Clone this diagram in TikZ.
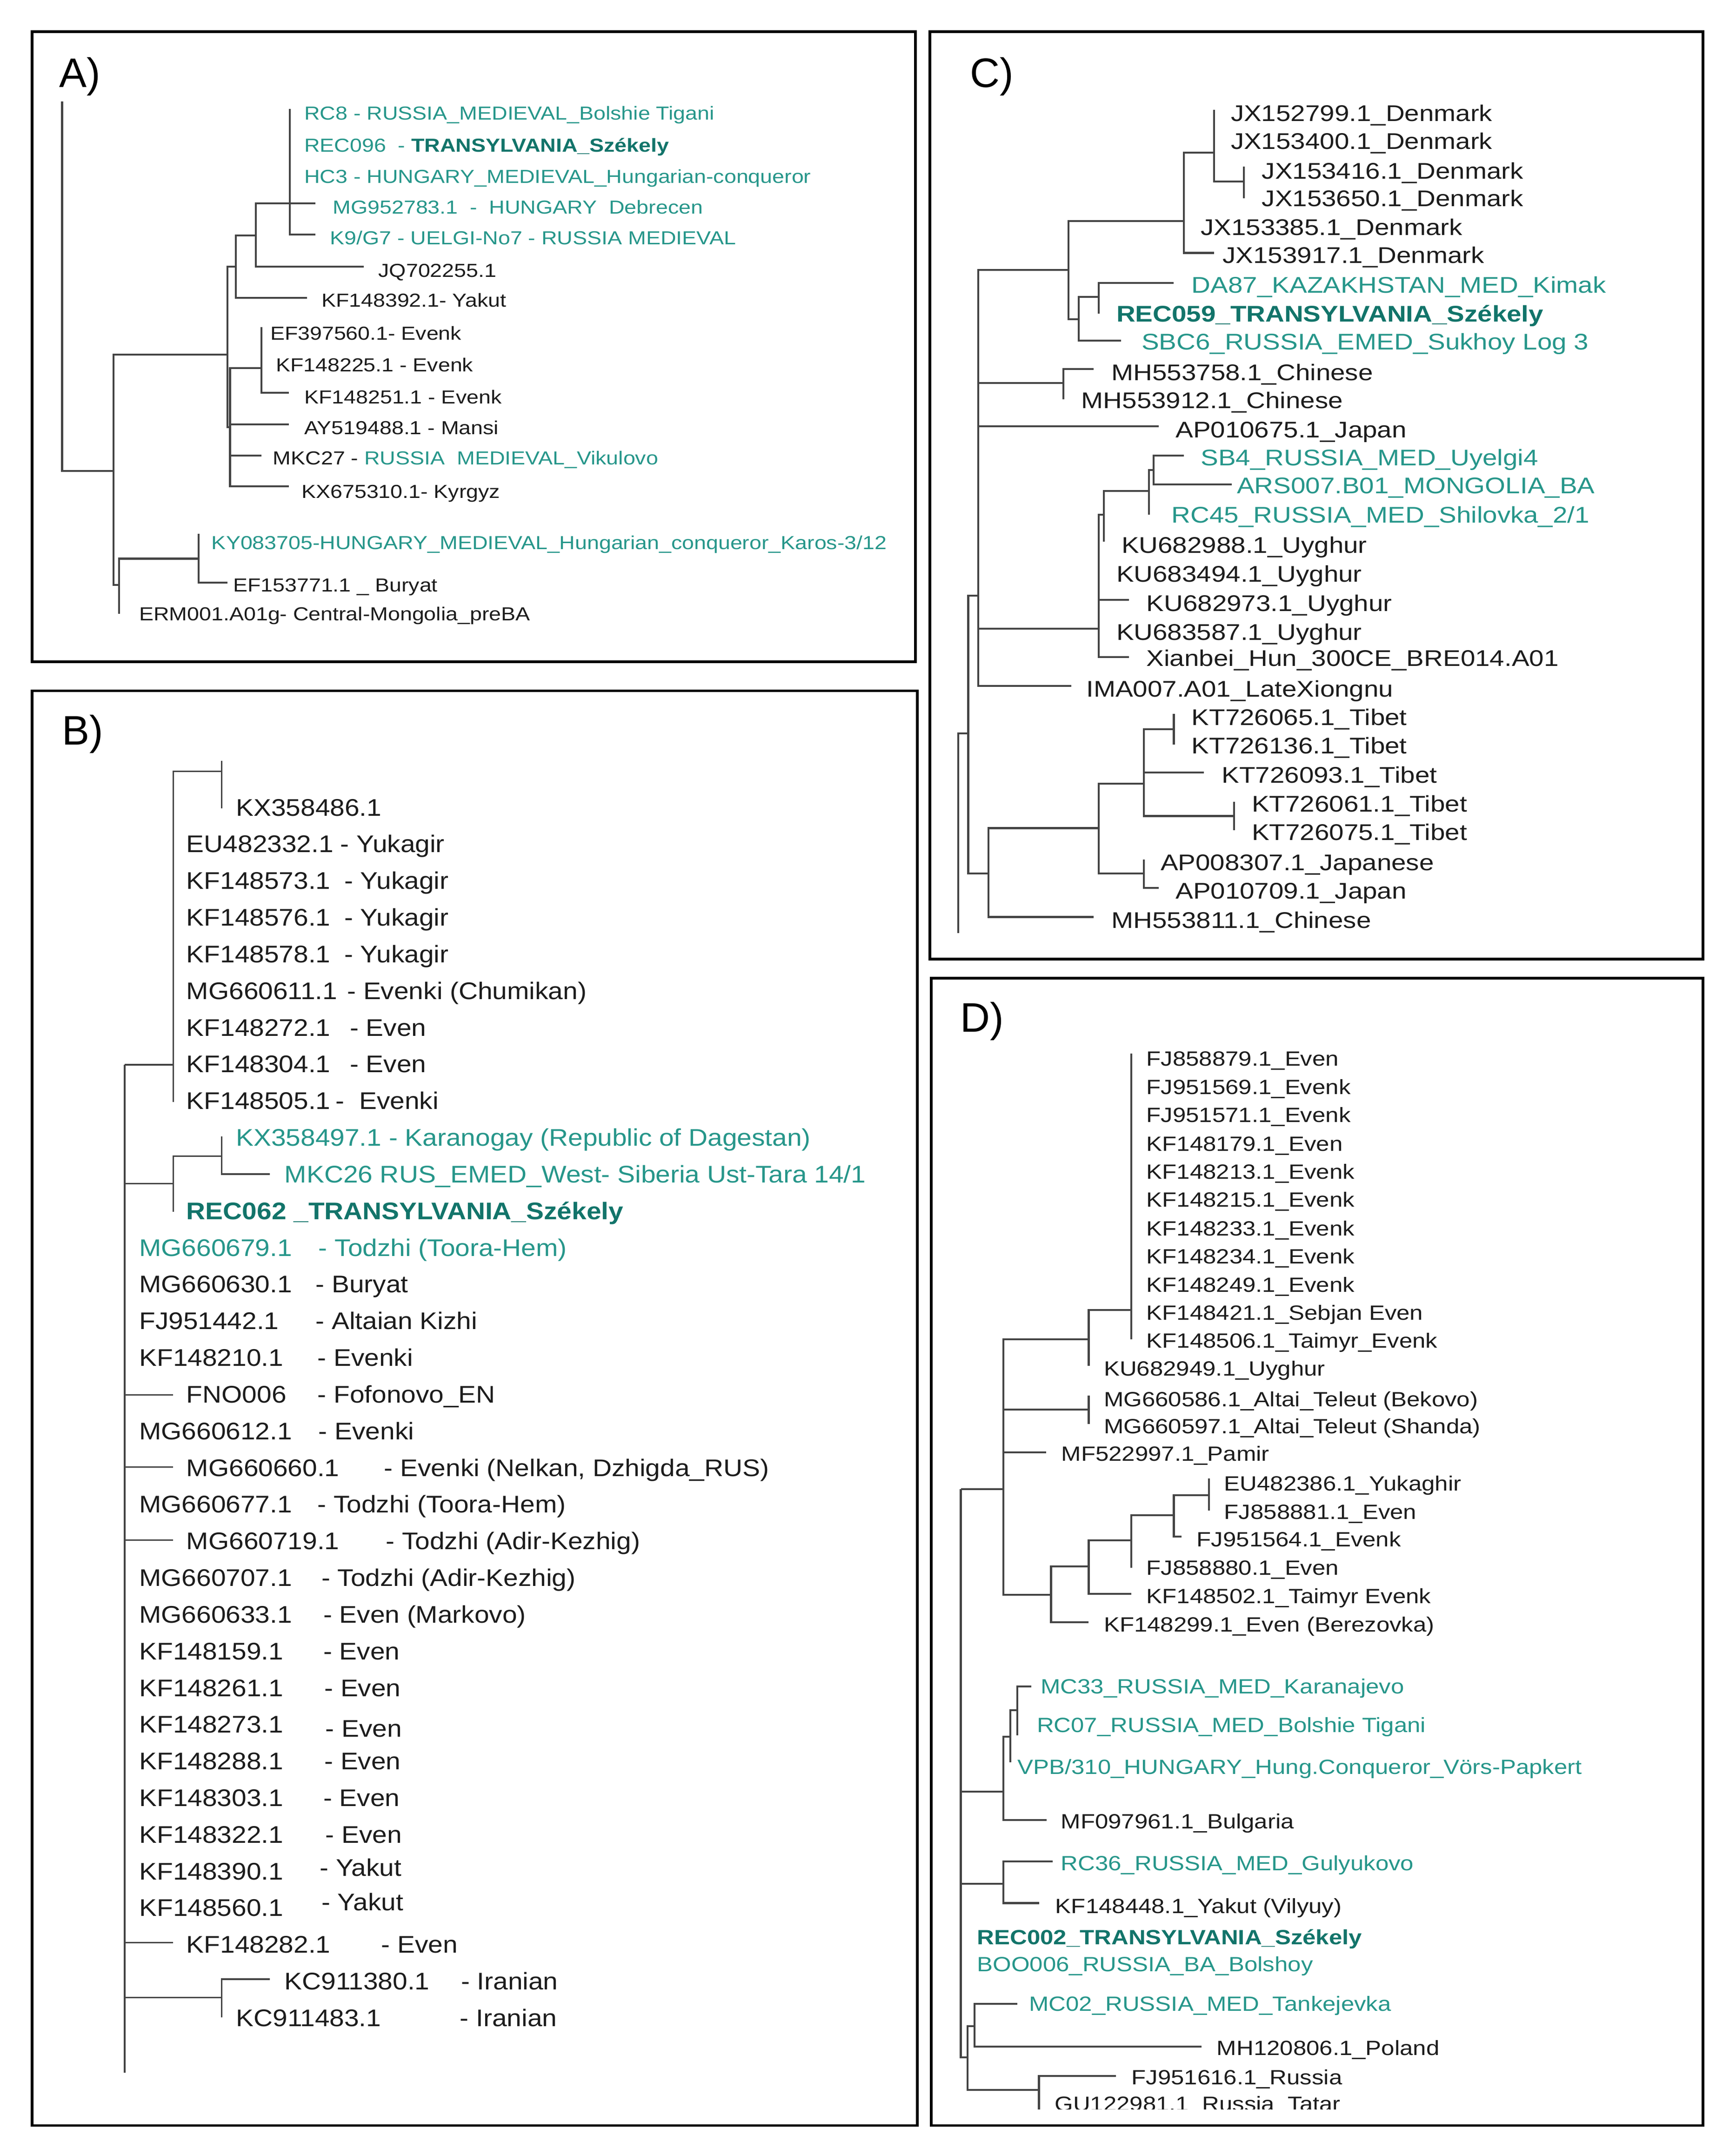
\documentclass[tikz,border=0pt]{standalone}
\usepackage{fontspec}
\setmainfont{Liberation Sans}
\newfontfamily\fA{Liberation Sans}[FakeStretch=1.15]
\newfontfamily\fB{Liberation Sans}[FakeStretch=1.10]
\newfontfamily\fC{Liberation Sans}[FakeStretch=1.16]
\newfontfamily\fD{Liberation Sans}[FakeStretch=1.15]
\newfontfamily\fL{Liberation Sans}
\definecolor{teal1}{RGB}{38,150,138}
\definecolor{teal2}{RGB}{18,116,106}
\definecolor{txt}{RGB}{28,28,28}
\definecolor{linegray}{RGB}{68,68,68}
\begin{document}
\begin{tikzpicture}[x=1pt,y=-1pt,
  tree/.style={draw=linegray, line width=1.4pt},
  treeb/.style={draw=linegray, line width=1.1pt},
  frame/.style={draw=black, line width=2pt},
  panel/.style={anchor=base west, inner sep=0pt, text=black, font=\fL\fontsize{30}{34}\selectfont},
  la/.style={anchor=west, inner sep=0pt, text height=9.8pt, text depth=0pt, text=txt, font=\fA\fontsize{13.7}{16}\selectfont},
  lat/.style={la, text=teal1},
  lb/.style={anchor=west, inner sep=0pt, text height=12.5pt, text depth=0pt, text=txt, font=\fB\fontsize{17.5}{20}\selectfont},
  lbt/.style={lb, text=teal1},
  lc/.style={anchor=west, inner sep=0pt, text height=11.8pt, text depth=0pt, text=txt, font=\fC\fontsize{16.5}{19}\selectfont},
  lct/.style={lc, text=teal1},
  ld/.style={anchor=west, inner sep=0pt, text height=10.7pt, text depth=0pt, text=txt, font=\fD\fontsize{15}{18}\selectfont},
  ldt/.style={ld, text=teal1},
  boldt/.style={text=teal2}
]
\useasboundingbox (0,0) rectangle (1264,1569.2);
\fill[white] (0,0) rectangle (1264,1569.2);

% ---------------- frames ----------------
\draw[frame] (23.5,23) rectangle (666.5,481.6);
\draw[frame] (23.5,502.8) rectangle (668,1547);
\draw[frame] (677,23) rectangle (1240,698);
\draw[frame] (678,712) rectangle (1240,1547);

\node[panel] (pA) at (43,63.4) {A)};
\node[panel] (pB) at (45,542) {B)};
\node[panel] (pC) at (706,63.6) {C)};
\node[panel] (pD) at (699,751.2) {D)};

% ================= PANEL A =================
\coordinate (A0t) at (45.2,74);
\coordinate (A0) at (45.2,342.8);
\coordinate (A1) at (82.5,342.8);
\coordinate (A2) at (165.5,258);
\coordinate (A3) at (86.7,425.6);
\coordinate (A4) at (144.7,406.6);
\coordinate (kyE) at (144.7,388.5);
\coordinate (ef15E) at (165.5,424);
\coordinate (ermE) at (86.7,446.9);
\coordinate (A5) at (171.7,194.2);
\coordinate (A6) at (186.2,171.5);
\coordinate (A7) at (211.1,148.1);
\coordinate (rc8E) at (211.1,79.3);
\coordinate (mgE) at (229.7,148.1);
\coordinate (k9E) at (229.7,170.8);
\coordinate (jqE) at (265,194.2);
\coordinate (kf392E) at (223.5,216.9);
\coordinate (A8) at (167.5,310.9);
\coordinate (A9) at (190.3,267.9);
\coordinate (ef39E) at (190.3,238);
\coordinate (kf251E) at (210.3,286);
\coordinate (ayE) at (210.3,308.9);
\coordinate (mkcE) at (190.3,331.7);
\coordinate (kx675E) at (210.3,353.8);

\draw[tree] (A0t) -- (A0) -- (A1);
\draw[tree] (A1) |- (A2);
\draw[tree] (A1) |- (A3);
\draw[tree] (A3) |- (A4);
\draw[tree] (A3) |- (ermE);
\draw[tree] (A4) |- (kyE);
\draw[tree] (A4) |- (ef15E);
\draw[tree] (A2) |- (A5);
\draw[tree] (A2) |- (A8);
\draw[tree] (A5) |- (A6);
\draw[tree] (A5) |- (kf392E);
\draw[tree] (A6) |- (A7);
\draw[tree] (A6) |- (jqE);
\draw[tree] (A7) |- (rc8E);
\draw[tree] (A7) |- (mgE);
\draw[tree] (A7) |- (k9E);
\draw[tree] (A8) |- (A9);
\draw[tree] (A8) |- (ayE);
\draw[tree] (A8) |- (mkcE);
\draw[tree] (A8) |- (kx675E);
\draw[tree] (A9) |- (ef39E);
\draw[tree] (A9) |- (kf251E);

\node[lat] (a-rc8) at (221.4,82.3) {RC8 - RUSSIA\_MEDIEVAL\_Bolshie Tigani};
\node[lat] (a-rec) at (221.4,105.7) {REC096\ \ - \textcolor{teal2}{\textbf{TRANSYLVANIA\_Székely}}};
\node[lat] (a-hc3) at (221.4,128.4) {HC3 - HUNGARY\_MEDIEVAL\_Hungarian-conqueror};
\node[lat] (a-mg) at (242.2,150.7) {MG952783.1\ \ -\ \ HUNGARY\ \ Debrecen};
\node[lat] (a-k9) at (240.1,173.2) {K9/G7 - UELGI-No7 - RUSSIA MEDIEVAL};
\node[la] (a-jq) at (275.4,196.7) {JQ702255.1};
\node[la] (a-kf392) at (233.9,218.4) {KF148392.1- Yakut};
\node[la] (a-ef39) at (196.6,242.6) {EF397560.1- Evenk};
\node[la] (a-kf225) at (200.7,265.5) {KF148225.1 - Evenk};
\node[la] (a-kf251) at (221.4,289) {KF148251.1 - Evenk};
\node[la] (a-ay) at (221.4,311.2) {AY519488.1 - Mansi};
\node[la] (a-mkc) at (198.6,333.3) {MKC27 - \textcolor{teal1}{RUSSIA\ \ MEDIEVAL\_Vikulovo}};
\node[la] (a-kx) at (219.4,357.7) {KX675310.1- Kyrgyz};
\node[lat] (a-ky) at (153.9,394.8) {KY083705-HUNGARY\_MEDIEVAL\_Hungarian\_conqueror\_Karos-3/12};
\node[la] (a-ef15) at (169.6,425.6) {EF153771.1 \_ Buryat};
\node[la] (a-erm) at (101.2,446.9) {ERM001.A01g- Central-Mongolia\_preBA};

% ================= PANEL B =================
\coordinate (B0) at (90.8,774.9);
\coordinate (B0e) at (90.8,1508.4);
\coordinate (B1) at (126.1,774.9);
\coordinate (B4) at (161.3,561.5);
\coordinate (b486t) at (161.3,553.9);
\coordinate (b486E) at (161.3,588.4);
\coordinate (b505E) at (126.1,802.2);
\coordinate (B2) at (126.1,861.4);
\coordinate (B5) at (161.3,841.4);
\coordinate (b497E) at (161.3,827.1);
\coordinate (bmkcE) at (196.6,854.5);
\coordinate (b062E) at (126.1,881.8);
\coordinate (bfnoE) at (126.1,1015.2);
\coordinate (b660E) at (126.1,1067.8);
\coordinate (b719E) at (126.1,1121);
\coordinate (b282E) at (126.1,1413.8);
\coordinate (B3) at (161.3,1453.9);
\coordinate (b380E) at (196.6,1440.5);
\coordinate (b483E) at (161.3,1468.4);

\draw[treeb] (B0) -- (B0e);
\draw[treeb] (B0) |- (B1);
\draw[treeb] (B0) |- (B2);
\draw[treeb] (B0) |- (bfnoE);
\draw[treeb] (B0) |- (b660E);
\draw[treeb] (B0) |- (b719E);
\draw[treeb] (B0) |- (b282E);
\draw[treeb] (B0) |- (B3);
\draw[treeb] (B1) |- (B4);
\draw[treeb] (B1) |- (b505E);
\draw[treeb] (B4) |- (b486t);
\draw[treeb] (B4) |- (b486E);
\draw[treeb] (B2) |- (B5);
\draw[treeb] (B2) |- (b062E);
\draw[treeb] (B5) |- (b497E);
\draw[treeb] (B5) |- (bmkcE);
\draw[treeb] (B3) |- (b380E);
\draw[treeb] (B3) |- (b483E);

\node[lb] (b-486) at (171.7,587.5) {KX358486.1};
\node[lb] (b-332) at (135.6,614.2) {EU482332.1};
\node[lb] (b-332p) at (247.6,614.2) {- Yukagir};
\node[lb] (b-573) at (135.6,640.9) {KF148573.1};
\node[lb] (b-573p) at (250.5,640.9) {- Yukagir};
\node[lb] (b-576) at (135.6,667.6) {KF148576.1};
\node[lb] (b-576p) at (250.5,667.6) {- Yukagir};
\node[lb] (b-578) at (135.6,694.3) {KF148578.1};
\node[lb] (b-578p) at (250.5,694.3) {- Yukagir};
\node[lb] (b-611) at (135.6,721.0) {MG660611.1};
\node[lb] (b-611p) at (252.6,721.0) {- Evenki (Chumikan)};
\node[lb] (b-272) at (135.6,747.7) {KF148272.1};
\node[lb] (b-272p) at (254.6,747.7) {- Even};
\node[lb] (b-304) at (135.6,774.4) {KF148304.1};
\node[lb] (b-304p) at (254.6,774.4) {- Even};
\node[lb] (b-505) at (135.6,801.1) {KF148505.1};
\node[lb] (b-505p) at (244.3,801.1) {-\ \ Evenki};
\node[lbt] (b-497) at (171.7,827.8) {KX358497.1 - Karanogay (Republic of Dagestan)};
\node[lbt] (b-mkc) at (207,854.5) {MKC26 RUS\_EMED\_West- Siberia Ust-Tara 14/1};
\node[lb, boldt] (b-062) at (135.6,881.2) {\textbf{REC062 \_TRANSYLVANIA\_Székely}};
\node[lbt] (b-679) at (101.2,907.9) {MG660679.1};
\node[lbt] (b-679p) at (231.8,907.9) {- Todzhi (Toora-Hem)};
\node[lb] (b-630) at (101.2,934.6) {MG660630.1};
\node[lb] (b-630p) at (229.7,934.6) {- Buryat};
\node[lb] (b-442) at (101.2,961.3) {FJ951442.1};
\node[lb] (b-442p) at (229.7,961.3) {- Altaian Kizhi};
\node[lb] (b-210) at (101.2,988.0) {KF148210.1};
\node[lb] (b-210p) at (231,988.0) {- Evenki};
\node[lb] (b-fno) at (135.6,1014.7) {FNO006};
\node[lb] (b-fnop) at (231,1014.7) {- Fofonovo\_EN};
\node[lb] (b-612) at (101.2,1041.4) {MG660612.1};
\node[lb] (b-612p) at (231.8,1041.4) {- Evenki};
\node[lb] (b-660) at (135.6,1068.1) {MG660660.1};
\node[lb] (b-660p) at (279.5,1068.1) {- Evenki (Nelkan, Dzhigda\_RUS)};
\node[lb] (b-677) at (101.2,1094.8) {MG660677.1};
\node[lb] (b-677p) at (231,1094.8) {- Todzhi (Toora-Hem)};
\node[lb] (b-719) at (135.6,1121.5) {MG660719.1};
\node[lb] (b-719p) at (280.8,1121.5) {- Todzhi (Adir-Kezhig)};
\node[lb] (b-707) at (101.2,1148.2) {MG660707.1};
\node[lb] (b-707p) at (233.9,1148.2) {- Todzhi (Adir-Kezhig)};
\node[lb] (b-633) at (101.2,1174.9) {MG660633.1};
\node[lb] (b-633p) at (235.2,1174.9) {- Even (Markovo)};
\node[lb] (b-159) at (101.2,1201.6) {KF148159.1};
\node[lb] (b-159p) at (235.2,1201.6) {- Even};
\node[lb] (b-261) at (101.2,1228.3) {KF148261.1};
\node[lb] (b-261p) at (236,1228.3) {- Even};
\node[lb] (b-273) at (101.2,1255.0) {KF148273.1};
\node[lb] (b-273p) at (236.8,1258.0) {- Even};
\node[lb] (b-288) at (101.2,1281.7) {KF148288.1};
\node[lb] (b-288p) at (236,1281.7) {- Even};
\node[lb] (b-303) at (101.2,1308.4) {KF148303.1};
\node[lb] (b-303p) at (235.2,1308.4) {- Even};
\node[lb] (b-322) at (101.2,1335.1) {KF148322.1};
\node[lb] (b-322p) at (236.8,1335.1) {- Even};
\node[lb] (b-390) at (101.2,1361.8) {KF148390.1};
\node[lb] (b-390p) at (232.6,1359.3) {- Yakut};
\node[lb] (b-560) at (101.2,1388.5) {KF148560.1};
\node[lb] (b-560p) at (233.9,1384.3) {- Yakut};
\node[lb] (b-282) at (135.6,1415.2) {KF148282.1};
\node[lb] (b-282p) at (277.4,1415.2) {- Even};
\node[lb] (b-380) at (207,1441.9) {KC911380.1};
\node[lb] (b-380p) at (335.5,1441.9) {- Iranian};
\node[lb] (b-483) at (171.7,1468.6) {KC911483.1};
\node[lb] (b-483p) at (334.7,1468.6) {- Iranian};

% ================= PANEL C =================
\coordinate (C0e) at (697.7,679.1);
\coordinate (C0) at (697.7,533.7);
\coordinate (C1) at (705,533.7);
\coordinate (C2) at (712.3,433.6);
\coordinate (C3) at (719.6,635.8);
\coordinate (C4) at (778,196.5);
\coordinate (C5) at (774.4,278.6);
\coordinate (ap675E) at (843.8,310.3);
\coordinate (C6) at (800,457.7);
\coordinate (imaE) at (779.9,499.2);
\coordinate (C7) at (862,160.8);
\coordinate (C8) at (785.4,232.3);
\coordinate (C9) at (884,111);
\coordinate (jx385E) at (862,165.4);
\coordinate (jx917E) at (884,184.1);
\coordinate (jx799E) at (884,79.9);
\coordinate (C10) at (905.8,132);
\coordinate (jx416E) at (905.8,121.1);
\coordinate (jx650E) at (905.8,144.4);
\coordinate (C11) at (800,216);
\coordinate (sbc6E) at (816.4,247.8);
\coordinate (da87E) at (854.7,205.9);
\coordinate (rec059E) at (800,228.4);
\coordinate (mh758E) at (796.3,268.7);
\coordinate (mh912E) at (774.4,290.7);
\coordinate (C12) at (803.6,374.6);
\coordinate (ku973E) at (821.9,436.6);
\coordinate (xianE) at (821.9,478.2);
\coordinate (C13) at (836.5,357.2);
\coordinate (ku988E) at (803.6,394.2);
\coordinate (C14) at (840.1,342.1);
\coordinate (rc45E) at (836.5,374.6);
\coordinate (sb4E) at (862,331.5);
\coordinate (arsE) at (896.7,352.7);
\coordinate (C15) at (800,602.7);
\coordinate (mh811E) at (796.3,667.4);
\coordinate (C16) at (832.8,570.4);
\coordinate (C17) at (832.8,635.8);
\coordinate (C18) at (854.7,530.8);
\coordinate (kt093E) at (876.6,562.3);
\coordinate (C19) at (898.5,593.9);
\coordinate (kt065E) at (854.7,519.7);
\coordinate (kt136E) at (854.7,541.8);
\coordinate (kt061E) at (898.5,583.6);
\coordinate (kt075E) at (898.5,604.2);
\coordinate (ap307E) at (832.8,625.5);
\coordinate (ap709E) at (843.8,646.1);

\draw[tree] (C0e) -- (C0) -- (C1);
\draw[tree] (C1) |- (C2);
\draw[tree] (C1) |- (C3);
\draw[tree] (C2) |- (C4);
\draw[tree] (C2) |- (C5);
\draw[tree] (C2) |- (ap675E);
\draw[tree] (C2) |- (C6);
\draw[tree] (C2) |- (imaE);
\draw[tree] (C4) |- (C7);
\draw[tree] (C4) |- (C8);
\draw[tree] (C7) |- (C9);
\draw[tree] (C7) |- (jx385E);
\draw[tree] (C7) |- (jx917E);
\draw[tree] (C9) |- (jx799E);
\draw[tree] (C9) |- (C10);
\draw[tree] (C10) |- (jx416E);
\draw[tree] (C10) |- (jx650E);
\draw[tree] (C8) |- (C11);
\draw[tree] (C8) |- (sbc6E);
\draw[tree] (C11) |- (da87E);
\draw[tree] (C11) |- (rec059E);
\draw[tree] (C5) |- (mh758E);
\draw[tree] (C5) |- (mh912E);
\draw[tree] (C6) |- (C12);
\draw[tree] (C6) |- (ku973E);
\draw[tree] (C6) |- (xianE);
\draw[tree] (C12) |- (C13);
\draw[tree] (C12) |- (ku988E);
\draw[tree] (C13) |- (C14);
\draw[tree] (C13) |- (rc45E);
\draw[tree] (C14) |- (sb4E);
\draw[tree] (C14) |- (arsE);
\draw[tree] (C3) |- (C15);
\draw[tree] (C3) |- (mh811E);
\draw[tree] (C15) |- (C16);
\draw[tree] (C15) |- (C17);
\draw[tree] (C16) |- (C18);
\draw[tree] (C16) |- (kt093E);
\draw[tree] (C16) |- (C19);
\draw[tree] (C18) |- (kt065E);
\draw[tree] (C18) |- (kt136E);
\draw[tree] (C19) |- (kt061E);
\draw[tree] (C19) |- (kt075E);
\draw[tree] (C17) |- (ap307E);
\draw[tree] (C17) |- (ap709E);

\node[lc] (c-799) at (896,82.2) {JX152799.1\_Denmark};
\node[lc] (c-400) at (896,102.5) {JX153400.1\_Denmark};
\node[lc] (c-416) at (918.6,124.2) {JX153416.1\_Denmark};
\node[lc] (c-650) at (918.6,144.4) {JX153650.1\_Denmark};
\node[lc] (c-385) at (874.1,165.4) {JX153385.1\_Denmark};
\node[lc] (c-917) at (890.1,185.6) {JX153917.1\_Denmark};
\node[lct] (c-da87) at (867.5,207.4) {DA87\_KAZAKHSTAN\_MED\_Kimak};
\node[lc, boldt] (c-rec) at (812.7,228.4) {\textbf{REC059\_TRANSYLVANIA\_Székely}};
\node[lct] (c-sbc6) at (831,248.6) {SBC6\_RUSSIA\_EMED\_Sukhoy Log 3};
\node[lc] (c-758) at (809.1,271) {MH553758.1\_Chinese};
\node[lc] (c-912) at (787.2,291.4) {MH553912.1\_Chinese};
\node[lc] (c-675) at (855.8,312.6) {AP010675.1\_Japan};
\node[lct] (c-sb4) at (874.1,333) {SB4\_RUSSIA\_MED\_Uyelgi4};
\node[lct] (c-ars) at (900.4,353.4) {ARS007.B01\_MONGOLIA\_BA};
\node[lct] (c-rc45) at (852.9,374.6) {RC45\_RUSSIA\_MED\_Shilovka\_2/1};
\node[lc] (c-988) at (816.4,396.5) {KU682988.1\_Uyghur};
\node[lc] (c-494) at (812.7,417.7) {KU683494.1\_Uyghur};
\node[lc] (c-973) at (834.6,438.9) {KU682973.1\_Uyghur};
\node[lc] (c-587) at (812.7,460) {KU683587.1\_Uyghur};
\node[lc] (c-xian) at (834.6,478.9) {Xianbei\_Hun\_300CE\_BRE014.A01};
\node[lc] (c-ima) at (790.8,501.4) {IMA007.A01\_LateXiongnu};
\node[lc] (c-065) at (867.5,521.9) {KT726065.1\_Tibet};
\node[lc] (c-136) at (867.5,542.5) {KT726136.1\_Tibet};
\node[lc] (c-093) at (889.4,563.8) {KT726093.1\_Tibet};
\node[lc] (c-061) at (911.3,585.1) {KT726061.1\_Tibet};
\node[lc] (c-075) at (911.3,605.7) {KT726075.1\_Tibet};
\node[lc] (c-307) at (844.9,627.7) {AP008307.1\_Japanese};
\node[lc] (c-709) at (855.8,648.3) {AP010709.1\_Japan};
\node[lc] (c-811) at (809.1,669.6) {MH553811.1\_Chinese};

% ================= PANEL D =================
\coordinate (D0) at (699.6,1083.9);
\coordinate (D0e) at (699.6,1497.4);
\coordinate (D1) at (730.6,1083.9);
\coordinate (D5) at (792.7,974.7);
\coordinate (D8) at (823.7,953.3);
\coordinate (d879E) at (823.7,766.7);
\coordinate (d506E) at (823.7,974.7);
\coordinate (d949E) at (792.7,994.2);
\coordinate (D6) at (792.7,1026);
\coordinate (d586E) at (792.7,1015.6);
\coordinate (d597E) at (792.7,1036.4);
\coordinate (d997E) at (761.6,1057.1);
\coordinate (D7) at (765.3,1160.8);
\coordinate (D9) at (792.7,1140);
\coordinate (d299E) at (792.7,1180.6);
\coordinate (D10) at (823.7,1121);
\coordinate (d502E) at (823.7,1159.9);
\coordinate (D11) at (854.7,1102.9);
\coordinate (d880E) at (823.7,1140.9);
\coordinate (D12) at (880.3,1088.2);
\coordinate (d564E) at (860.2,1118.4);
\coordinate (d386E) at (880.3,1076.1);
\coordinate (d881E) at (880.3,1099.4);
\coordinate (D2) at (730.5,1304.1);
\coordinate (D13) at (735.6,1264.1);
\coordinate (d961E) at (762.1,1324.6);
\coordinate (D14) at (740.7,1244.7);
\coordinate (dvpbE) at (735.6,1282.5);
\coordinate (dmc33E) at (750.8,1227.4);
\coordinate (drc07E) at (740.7,1263);
\coordinate (D3) at (730.5,1371);
\coordinate (drc36E) at (766.6,1354.8);
\coordinate (d448E) at (756.5,1385.1);
\coordinate (D4) at (704.5,1497.4);
\coordinate (D15) at (709.6,1474.7);
\coordinate (D16) at (756.5,1521.2);
\coordinate (dmc02E) at (740.7,1458.5);
\coordinate (d806E) at (874.8,1489.6);
\coordinate (d616E) at (812.7,1510.8);
\coordinate (dguE) at (756.5,1535.2);

\draw[tree] (D0) -- (D0e) -- (D4);
\draw[tree] (D0) |- (D1);
\draw[tree] (D0) |- (D2);
\draw[tree] (D0) |- (D3);
\draw[tree] (D1) |- (D5);
\draw[tree] (D1) |- (D6);
\draw[tree] (D1) |- (d997E);
\draw[tree] (D1) |- (D7);
\draw[tree] (D5) |- (D8);
\draw[tree] (D5) |- (d949E);
\draw[tree] (D8) |- (d879E);
\draw[tree] (D8) |- (d506E);
\draw[tree] (D6) |- (d586E);
\draw[tree] (D6) |- (d597E);
\draw[tree] (D7) |- (D9);
\draw[tree] (D7) |- (d299E);
\draw[tree] (D9) |- (D10);
\draw[tree] (D9) |- (d502E);
\draw[tree] (D10) |- (D11);
\draw[tree] (D10) |- (d880E);
\draw[tree] (D11) |- (D12);
\draw[tree] (D11) |- (d564E);
\draw[tree] (D12) |- (d386E);
\draw[tree] (D12) |- (d881E);
\draw[tree] (D2) |- (D13);
\draw[tree] (D2) |- (d961E);
\draw[tree] (D13) |- (D14);
\draw[tree] (D13) |- (dvpbE);
\draw[tree] (D14) |- (dmc33E);
\draw[tree] (D14) |- (drc07E);
\draw[tree] (D3) |- (drc36E);
\draw[tree] (D3) |- (d448E);
\draw[tree] (D4) |- (D15);
\draw[tree] (D4) |- (D16);
\draw[tree] (D15) |- (dmc02E);
\draw[tree] (D15) |- (d806E);
\draw[tree] (D16) |- (d616E);
\draw[tree] (D16) |- (dguE);

\node[ld] (d-879) at (834.6,770.6) {FJ858879.1\_Even};
\node[ld] (d-569) at (834.6,791) {FJ951569.1\_Evenk};
\node[ld] (d-571) at (834.6,811.4) {FJ951571.1\_Evenk};
\node[ld] (d-179) at (834.6,832.4) {KF148179.1\_Even};
\node[ld] (d-213) at (834.6,852.6) {KF148213.1\_Evenk};
\node[ld] (d-215) at (834.6,873.2) {KF148215.1\_Evenk};
\node[ld] (d-233) at (834.6,894) {KF148233.1\_Evenk};
\node[ld] (d-234) at (834.6,914.5) {KF148234.1\_Evenk};
\node[ld] (d-249) at (834.6,934.9) {KF148249.1\_Evenk};
\node[ld] (d-421) at (834.6,955.3) {KF148421.1\_Sebjan Even};
\node[ld] (d-506) at (834.6,975.7) {KF148506.1\_Taimyr\_Evenk};
\node[ld] (d-949) at (803.6,996.1) {KU682949.1\_Uyghur};
\node[ld] (d-586) at (803.6,1018.2) {MG660586.1\_Altai\_Teleut (Bekovo)};
\node[ld] (d-597) at (803.6,1038.1) {MG660597.1\_Altai\_Teleut (Shanda)};
\node[ld] (d-997) at (772.6,1058) {MF522997.1\_Pamir};
\node[ld] (d-386) at (891.2,1079.6) {EU482386.1\_Yukaghir};
\node[ld] (d-881) at (891.2,1100.3) {FJ858881.1\_Even};
\node[ld] (d-564) at (871.2,1120.2) {FJ951564.1\_Evenk};
\node[ld] (d-880) at (834.6,1140.9) {FJ858880.1\_Even};
\node[ld] (d-502) at (834.6,1161.6) {KF148502.1\_Taimyr Evenk};
\node[ld] (d-299) at (803.6,1182.4) {KF148299.1\_Even (Berezovka)};
\node[ldt] (d-mc33) at (757.6,1227.4) {MC33\_RUSSIA\_MED\_Karanajevo};
\node[ldt] (d-rc07) at (754.8,1255.5) {RC07\_RUSSIA\_MED\_Bolshie Tigani};
\node[ldt] (d-vpb) at (740.7,1286) {VPB/310\_HUNGARY\_Hung.Conqueror\_Vörs-Papkert};
\node[ld] (d-961) at (772.3,1325.5) {MF097961.1\_Bulgaria};
\node[ldt] (d-rc36) at (772.3,1356) {RC36\_RUSSIA\_MED\_Gulyukovo};
\node[ld] (d-448) at (768.3,1387.2) {KF148448.1\_Yakut (Vilyuy)};
\node[ld, boldt] (d-rec) at (711.3,1409.9) {\textbf{REC002\_TRANSYLVANIA\_Székely}};
\node[ldt] (d-boo) at (711.3,1429.4) {BOO006\_RUSSIA\_BA\_Bolshoy};
\node[ldt] (d-mc02) at (749.1,1458.3) {MC02\_RUSSIA\_MED\_Tankejevka};
\node[ld] (d-806) at (885.8,1490.4) {MH120806.1\_Poland};
\node[ld] (d-616) at (823.7,1511.8) {FJ951616.1\_Russia};
\begin{scope}
\clip (680,1500) rectangle (1238,1535);
\node[ld] (d-gu) at (767.8,1531.2) {GU122981.1\_Russia\_Tatar};
\end{scope}
\end{tikzpicture}
\end{document}
